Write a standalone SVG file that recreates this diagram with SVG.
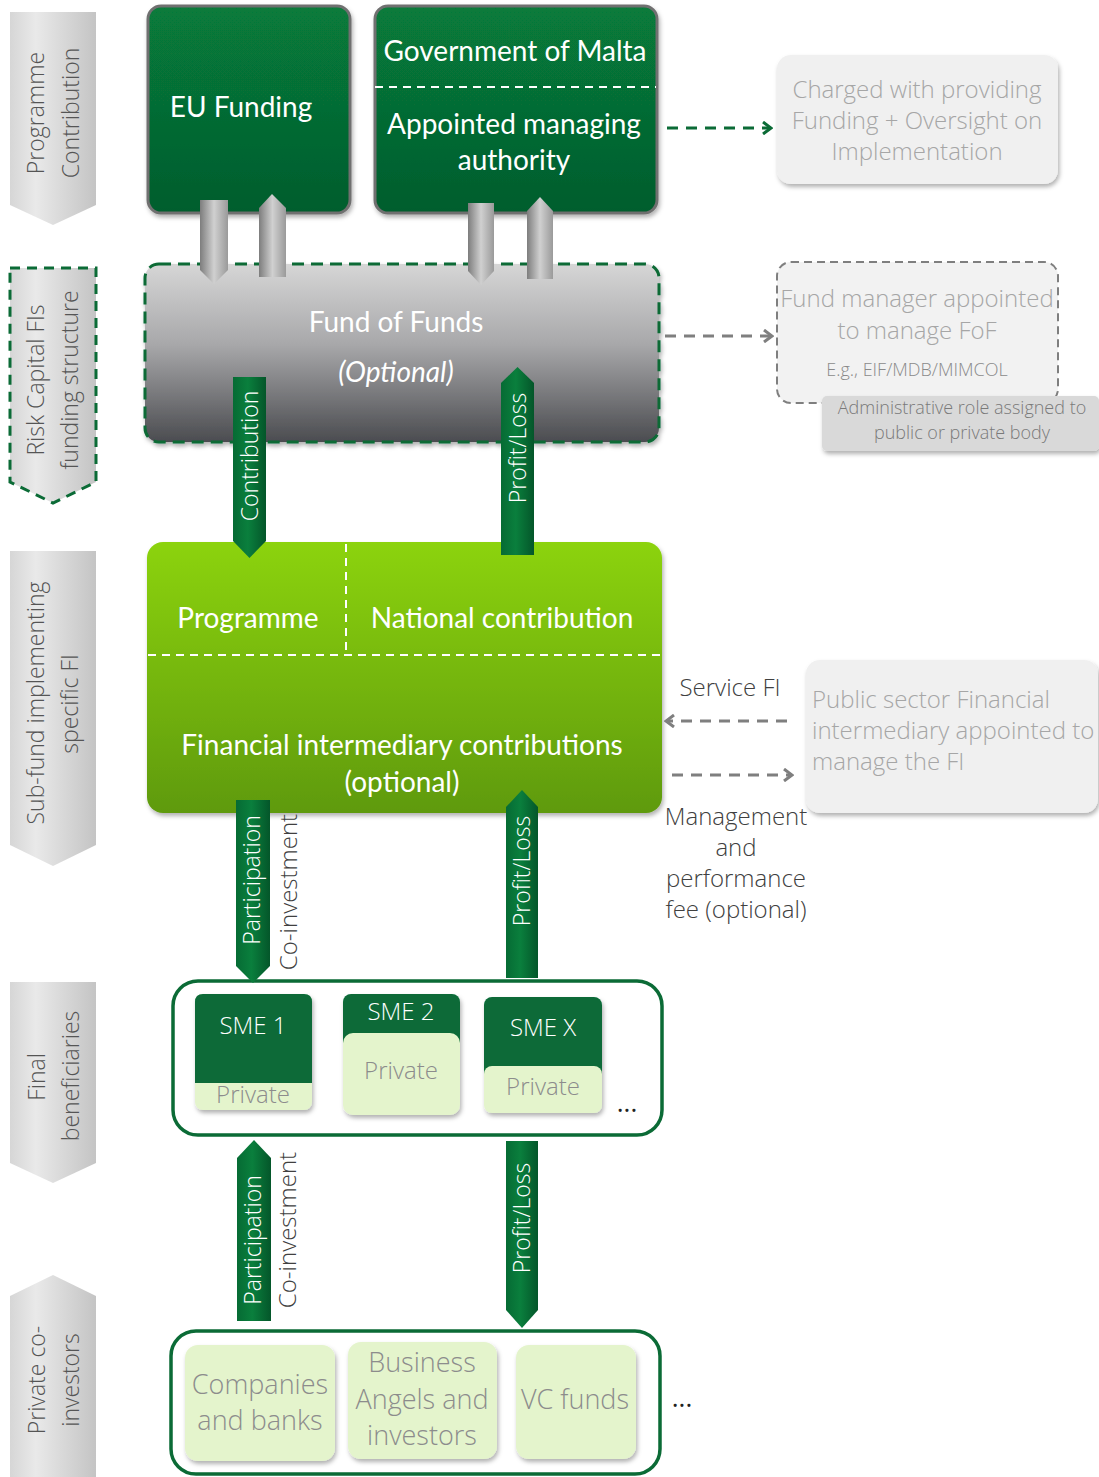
<svg xmlns="http://www.w3.org/2000/svg" width="1099" height="1477" viewBox="0 0 1099 1477">
<style>
.lt{font-family:"Open Sans","Noto Sans","DejaVu Sans",sans-serif;font-weight:300}
.side{font-size:23px;fill:#555555;text-anchor:middle}
.main{font-family:Lato,"Open Sans",sans-serif;font-size:28px;fill:#ffffff;text-anchor:middle}
.arr{font-size:23px;fill:#ffffff;text-anchor:middle}
.blk{font-size:24px;fill:#404040;text-anchor:middle}
.lbl{font-size:24px;fill:#404040;text-anchor:middle}
.note{font-size:24px;fill:#a6a6a6;text-anchor:middle}
.notel{font-size:24px;fill:#a6a6a6;text-anchor:start}
.small{font-size:18px;fill:#8a8a8a;text-anchor:middle}
.adm{font-size:18px;fill:#7a7a7a;text-anchor:middle}
.priv{font-size:24px;fill:#8c8c8c;text-anchor:middle}
.sme{font-size:24px;fill:#ffffff;text-anchor:middle}
.inv{font-size:27px;fill:#8c8c8c;text-anchor:middle}
.dots{font-family:"Open Sans","DejaVu Sans",sans-serif;font-size:26px;font-weight:400;fill:#222222;text-anchor:middle}
.garr{fill:url(#gGreenArr)}
.grayarr{fill:url(#gGrayArr)}
.dashG{stroke:#0b6b36;stroke-width:3;stroke-dasharray:11 8;fill:none}
.dashK{stroke:#7f7f7f;stroke-width:3;stroke-dasharray:11 8;fill:none}
</style>
<defs>
<linearGradient id="gSide" x1="0" y1="0" x2="1" y2="0">
<stop offset="0" stop-color="#d6d6d6"/><stop offset="0.3" stop-color="#e9e9e9"/><stop offset="1" stop-color="#c4c4c4"/>
</linearGradient>
<linearGradient id="gDark" x1="0" y1="0" x2="0" y2="1">
<stop offset="0" stop-color="#077b3b"/><stop offset="1" stop-color="#055d2d"/>
</linearGradient>
<linearGradient id="gFoF" x1="0" y1="0" x2="0" y2="1">
<stop offset="0" stop-color="#d6d6d6"/><stop offset="0.45" stop-color="#a8a8aa"/><stop offset="1" stop-color="#4b4c50"/>
</linearGradient>
<linearGradient id="gLime" x1="0" y1="0" x2="0" y2="1">
<stop offset="0" stop-color="#8cd30b"/><stop offset="1" stop-color="#5f9a11"/>
</linearGradient>
<linearGradient id="gGreenArr" x1="0" y1="0" x2="1" y2="0">
<stop offset="0" stop-color="#066b34"/><stop offset="0.45" stop-color="#0a7f3d"/><stop offset="1" stop-color="#04562a"/>
</linearGradient>
<linearGradient id="gGrayArr" x1="0" y1="0" x2="1" y2="0">
<stop offset="0" stop-color="#7d7d7d"/><stop offset="0.5" stop-color="#d0d0d0"/><stop offset="1" stop-color="#9a9a9a"/>
</linearGradient>
<filter id="sh" x="-10%" y="-10%" width="125%" height="130%">
<feDropShadow dx="1.5" dy="3" stdDeviation="2" flood-color="#000" flood-opacity="0.3"/>
</filter>
<marker id="mG" viewBox="0 0 12 14" refX="10" refY="7" markerWidth="12" markerHeight="14" markerUnits="userSpaceOnUse" orient="auto">
<path d="M2,1 L10,7 L2,13" fill="none" stroke="#0b6b36" stroke-width="3" stroke-dasharray="none"/>
</marker>
<marker id="mK" viewBox="0 0 12 14" refX="10" refY="7" markerWidth="12" markerHeight="14" markerUnits="userSpaceOnUse" orient="auto">
<path d="M2,1 L10,7 L2,13" fill="none" stroke="#7f7f7f" stroke-width="3" stroke-dasharray="none"/>
</marker>
</defs>

<g id="side-labels">
<g id="lbl-programme">
<path d="M10,12 H96 V205 L53,225 L10,205 Z" fill="url(#gSide)"/>
<text class="lt side" transform="translate(44,113) rotate(-90)">Programme</text>
<text class="lt side" transform="translate(79,113) rotate(-90)">Contribution</text>
</g>
<g id="lbl-risk">
<path d="M10,268 H96 V482 L53,503 L10,482 Z" fill="url(#gSide)" stroke="#0b6b36" stroke-width="3" stroke-dasharray="10 7"/>
<text class="lt side" transform="translate(44,380) rotate(-90)">Risk Capital FIs</text>
<text class="lt side" transform="translate(78,380) rotate(-90)">funding structure</text>
</g>
<g id="lbl-subfund">
<path d="M10,551 H96 V845 L53,866 L10,845 Z" fill="url(#gSide)"/>
<text class="lt side" transform="translate(44,703) rotate(-90)">Sub-fund implementing</text>
<text class="lt side" transform="translate(78,704) rotate(-90)">specific FI</text>
</g>
<g id="lbl-final">
<path d="M10,982 H96 V1163 L53,1183 L10,1163 Z" fill="url(#gSide)"/>
<text class="lt side" transform="translate(45,1077) rotate(-90)">Final</text>
<text class="lt side" transform="translate(79,1076) rotate(-90)">beneficiaries</text>
</g>
<g id="lbl-private">
<path d="M10,1296 L53,1275 L96,1296 V1477 H10 Z" fill="url(#gSide)"/>
<text class="lt side" transform="translate(45,1380) rotate(-90)">Private co-</text>
<text class="lt side" transform="translate(79,1380) rotate(-90)">investors</text>
</g>
</g>

<g id="eu-funding">
<rect x="148" y="6" width="202" height="207" rx="13" fill="url(#gDark)" stroke="#6f6f6f" stroke-width="3" filter="url(#sh)"/>
<text class="main" x="241" y="117">EU Funding</text>
</g>

<g id="government">
<rect x="375" y="6" width="282" height="207" rx="13" fill="url(#gDark)" stroke="#6f6f6f" stroke-width="3" filter="url(#sh)"/>
<line x1="375" y1="87" x2="656" y2="87" stroke="#ffffff" stroke-width="2" stroke-dasharray="8 6"/>
<text class="main" x="515" y="61">Government of Malta</text>
<text class="main" x="514" y="134">Appointed managing</text>
<text class="main" x="514" y="170">authority</text>
</g>

<g id="note-charged">
<rect x="777" y="55" width="281" height="129" rx="14" fill="#f0f0f0" filter="url(#sh)"/>
<text class="lt note" x="917" y="98">Charged with providing</text>
<text class="lt note" x="917" y="129">Funding + Oversight on</text>
<text class="lt note" x="917" y="160">Implementation</text>
</g>

<g id="fund-of-funds">
<rect x="145" y="264" width="514" height="178" rx="14" fill="url(#gFoF)" stroke="#0b6b36" stroke-width="3" stroke-dasharray="12 7" filter="url(#sh)"/>
<text class="main" x="396" y="332">Fund of Funds</text>
<text class="main" x="396" y="382" font-style="italic">(Optional)</text>
</g>

<g id="note-fund-manager">
<rect x="777" y="262" width="281" height="141" rx="14" fill="#f2f2f2" stroke="#7f7f7f" stroke-width="2" stroke-dasharray="8 5"/>
<text class="lt note" x="917" y="307">Fund manager appointed</text>
<text class="lt note" x="917" y="339">to manage FoF</text>
<text class="lt small" x="917" y="376">E.g., EIF/MDB/MIMCOL</text>
</g>

<g id="note-admin">
<rect x="822" y="396" width="277" height="55" rx="5" fill="#d9d9d9" filter="url(#sh)"/>
<text class="lt adm" x="962" y="414">Administrative role assigned to</text>
<text class="lt adm" x="962" y="439">public or private body</text>
</g>

<g id="sub-fund">
<rect x="147" y="542" width="515" height="271" rx="16" fill="url(#gLime)" filter="url(#sh)"/>
<line x1="346" y1="544" x2="346" y2="655" stroke="#ffffff" stroke-width="2" stroke-dasharray="8 6"/>
<line x1="148" y1="655" x2="661" y2="655" stroke="#ffffff" stroke-width="2" stroke-dasharray="8 6"/>
<text class="main" x="248" y="628">Programme</text>
<text class="main" x="502" y="628">National contribution</text>
<text class="main" x="402" y="755">Financial intermediary contributions</text>
<text class="main" x="402" y="792">(optional)</text>
</g>

<g id="note-public-sector">
<rect x="806" y="660" width="292" height="153" rx="14" fill="#f0f0f0" filter="url(#sh)"/>
<text class="lt notel" x="812" y="708">Public sector Financial</text>
<text class="lt notel" x="812" y="739">intermediary appointed to</text>
<text class="lt notel" x="812" y="770">manage the FI</text>
</g>

<g id="final-beneficiaries">
<rect x="173" y="981" width="489" height="154" rx="25" fill="#ffffff" stroke="#0b6b36" stroke-width="3.5"/>
<g id="sme1" filter="url(#sh)">
<rect x="195" y="994" width="117" height="116" rx="8" fill="#e4f4cc"/>
<path d="M195,1083 V1002 Q195,994 203,994 H304 Q312,994 312,1002 V1083 Z" fill="#086b37"/>
</g>
<text class="lt sme" x="253" y="1034">SME 1</text>
<text class="lt priv" x="253" y="1103">Private</text>
<g id="sme2" filter="url(#sh)">
<rect x="343" y="994" width="117" height="60" rx="8" fill="#086b37"/>
<rect x="343" y="1033" width="117" height="82" rx="10" fill="#e4f4cc"/>
</g>
<text class="lt sme" x="401" y="1020">SME 2</text>
<text class="lt priv" x="401" y="1079">Private</text>
<g id="smex" filter="url(#sh)">
<rect x="484" y="997" width="118" height="90" rx="8" fill="#086b37"/>
<rect x="484" y="1066" width="118" height="47" rx="8" fill="#e4f4cc"/>
</g>
<text class="lt sme" x="543" y="1036">SME X</text>
<text class="lt priv" x="543" y="1095">Private</text>
<text class="dots" x="627" y="1112">...</text>
</g>

<g id="private-co-investors">
<rect x="171" y="1331" width="489" height="143" rx="25" fill="#ffffff" stroke="#0b6b36" stroke-width="3.5"/>
<rect x="185" y="1345" width="150" height="116" rx="13" fill="#e4f4cc" filter="url(#sh)"/>
<rect x="348" y="1342" width="149" height="117" rx="13" fill="#e4f4cc" filter="url(#sh)"/>
<rect x="516" y="1345" width="120" height="114" rx="13" fill="#e4f4cc" filter="url(#sh)"/>
<text class="lt inv" x="260" y="1394">Companies</text>
<text class="lt inv" x="260" y="1430">and banks</text>
<text class="lt inv" x="422" y="1372">Business</text>
<text class="lt inv" x="422" y="1409">Angels and</text>
<text class="lt inv" x="422" y="1445">investors</text>
<text class="lt inv" x="575" y="1409">VC funds</text>
<text class="dots" x="682" y="1407">...</text>
</g>

<g id="connectors">
<path class="grayarr" d="M200,200 H228 V270 L214,284 L200,270 Z"/>
<path class="grayarr" d="M272,194 L286,208 V277 H259 V208 Z"/>
<path class="grayarr" d="M468,203 H494 V271 L481,285 L468,271 Z"/>
<path class="grayarr" d="M540,197 L553,211 V279 H527 V211 Z"/>

<line class="dashG" x1="667" y1="128" x2="771" y2="128" marker-end="url(#mG)"/>
<line class="dashK" x1="665" y1="336" x2="772" y2="336" marker-end="url(#mK)"/>
<line class="dashK" x1="787" y1="721" x2="666" y2="721" marker-end="url(#mK)"/>
<line class="dashK" x1="672" y1="775" x2="792" y2="775" marker-end="url(#mK)"/>
<text class="lt lbl" x="730" y="696">Service FI</text>
<text class="lt lbl" x="736" y="825">Management</text>
<text class="lt lbl" x="736" y="856">and</text>
<text class="lt lbl" x="736" y="887">performance</text>
<text class="lt lbl" x="736" y="918">fee (optional)</text>

<path class="garr" d="M233,377 H266 V541 L249.5,558 L233,541 Z"/>
<text class="lt arr" transform="translate(258,456) rotate(-90)">Contribution</text>
<path class="garr" d="M517.5,367 L534,383 V555 H501 V383 Z"/>
<text class="lt arr" transform="translate(526,448) rotate(-90)">Profit/Loss</text>

<path class="garr" d="M236,800 H270 V966 L253,983 L236,966 Z"/>
<text class="lt arr" transform="translate(260,880) rotate(-90)">Participation</text>
<text class="lt blk" transform="translate(297,892) rotate(-90)">Co-investment</text>
<path class="garr" d="M522,790 L538,807 V978 H506 V807 Z"/>
<text class="lt arr" transform="translate(530,871) rotate(-90)">Profit/Loss</text>

<path class="garr" d="M254,1140 L271,1158 V1321 H237 V1158 Z"/>
<text class="lt arr" transform="translate(261,1240) rotate(-90)">Participation</text>
<text class="lt blk" transform="translate(296,1230) rotate(-90)">Co-investment</text>
<path class="garr" d="M506,1141 H538 V1310 L522,1328 L506,1310 Z"/>
<text class="lt arr" transform="translate(530,1218) rotate(-90)">Profit/Loss</text>
</g>
</svg>
